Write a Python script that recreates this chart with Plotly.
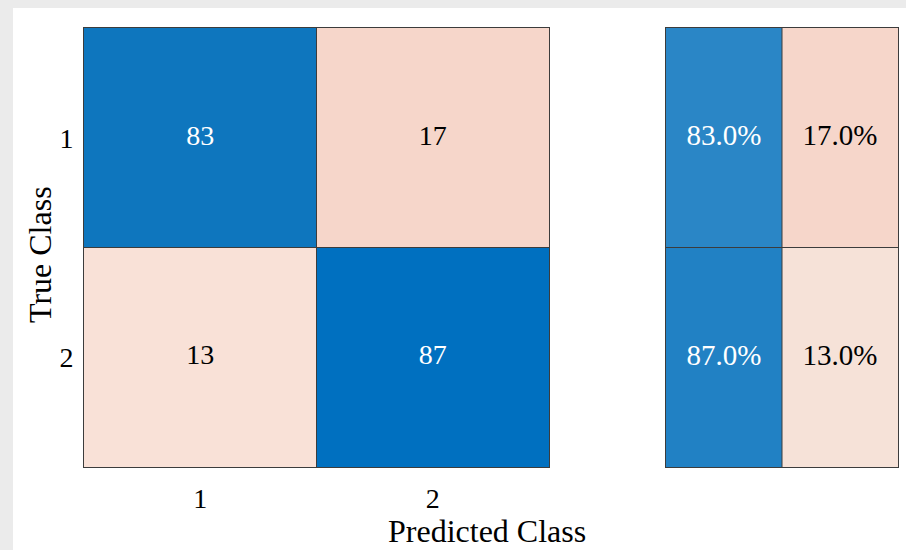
import plotly.graph_objects as go

# Confusion matrix (rows = true class, columns = predicted class)
classes = ["1", "2"]
counts = [[83, 17],
          [13, 87]]
# Row summary: share of each true class predicted correctly / incorrectly
row_correct = [83.0, 87.0]
row_incorrect = [17.0, 13.0]

# Cell fill colours
matrix_colors = [["#0e76be", "#f6d6ca"],
                 ["#f9e1d7", "#0070c0"]]
summary_colors = [["#2a86c6", "#f6d6ca"],
                  ["#2181c4", "#f6e2d8"]]

FONT = "Liberation Serif"
W, H = 906, 550
EDGE = "#3c3c3c"


def color_grid(colors):
    """Turn a 2x2 colour grid into a z index grid plus a discrete colorscale."""
    flat = [c for row in colors for c in row]
    n = len(flat)
    scale = []
    for i, c in enumerate(flat):
        scale.append([i / n, c])
        scale.append([(i + 1) / n, c])
    z = [[r * len(row) + k + 0.5 for k, _ in enumerate(row)] for r, row in enumerate(colors)]
    return z, scale, n


fig = go.Figure()

# Main matrix
z, scale, n = color_grid(matrix_colors)
xs = [1, 2]
ys = [1, 2]
fig.add_trace(go.Heatmap(x=xs, y=ys, z=z, colorscale=scale, zmin=0, zmax=n,
                         showscale=False, hoverinfo="skip", xaxis="x", yaxis="y"))
tx, ty, tt, tc = [], [], [], []
for r in range(2):
    for c in range(2):
        tx.append(xs[c]); ty.append(ys[r]); tt.append(str(counts[r][c]))
        tc.append("white" if r == c else "black")
fig.add_trace(go.Scatter(x=tx, y=ty, text=tt, mode="text", hoverinfo="skip",
                         textfont=dict(family=FONT, size=28, color=tc),
                         xaxis="x", yaxis="y", showlegend=False))

# Row summary panel
z2, scale2, n2 = color_grid(summary_colors)
fig.add_trace(go.Heatmap(x=xs, y=ys, z=z2, colorscale=scale2, zmin=0, zmax=n2,
                         showscale=False, hoverinfo="skip", xaxis="x2", yaxis="y2"))
sx, sy, st, sc = [], [], [], []
for r in range(2):
    sx += [1, 2]; sy += [ys[r], ys[r]]
    st += [f"{row_correct[r]:.1f}%", f"{row_incorrect[r]:.1f}%"]
    sc += ["white", "black"]
fig.add_trace(go.Scatter(x=sx, y=sy, text=st, mode="text", hoverinfo="skip",
                         textfont=dict(family=FONT, size=29, color=sc),
                         xaxis="x2", yaxis="y2", showlegend=False))

# Cell borders
shapes = []
for xa, ya in (("x", "y"), ("x2", "y2")):
    shapes.append(dict(type="line", xref=xa, yref=ya, x0=1.5, x1=1.5, y0=0.5, y1=2.5,
                       line=dict(color=EDGE, width=1)))
    shapes.append(dict(type="line", xref=xa, yref=ya, x0=0.5, x1=2.5, y0=1.5, y1=1.5,
                       line=dict(color=EDGE, width=1)))

# White canvas over grey surround
shapes.insert(0, dict(type="rect", xref="paper", yref="paper", layer="below",
                      x0=13 / W, x1=1.0, y0=0.0, y1=1 - 8 / H,
                      fillcolor="white", line=dict(width=0)))

ydom = [1 - 467 / H, 1 - 28 / H]
axis_common = dict(showgrid=False, zeroline=False, showline=True, mirror=True,
                   linecolor=EDGE, linewidth=1, fixedrange=True)

fig.update_layout(
    width=W, height=H,
    margin=dict(l=0, r=0, t=0, b=0),
    paper_bgcolor="#ebebeb",
    plot_bgcolor="white",
    showlegend=False,
    shapes=shapes,
    font=dict(family=FONT, size=27, color="black"),
    xaxis=dict(domain=[84 / W, 549 / W], anchor="y", tickmode="array",
               tickvals=xs, ticktext=classes, ticks="", ticklabelstandoff=6,
               range=[0.5, 2.5], tickfont=dict(family=FONT, size=28), **axis_common),
    yaxis=dict(domain=ydom, anchor="x", tickmode="array", tickvals=ys,
               ticktext=classes, ticks="", ticklabelstandoff=4,
               range=[2.5, 0.5], tickfont=dict(family=FONT, size=28), **axis_common),
    xaxis2=dict(domain=[666 / W, 898 / W], anchor="y2", showticklabels=False,
                ticks="", range=[0.5, 2.5], **axis_common),
    yaxis2=dict(domain=ydom, anchor="x2", showticklabels=False, ticks="",
                range=[2.5, 0.5], **axis_common),
    annotations=[
        dict(text="True Class", xref="paper", yref="paper", x=40 / W, y=1 - 255 / H,
             textangle=-90, showarrow=False, xanchor="center", yanchor="middle",
             font=dict(family=FONT, size=32, color="black")),
        dict(text="Predicted Class", xref="paper", yref="paper", x=487 / W, y=0,
             showarrow=False, xanchor="center", yanchor="bottom", yshift=0,
             borderpad=0,
             font=dict(family=FONT, size=32, color="black")),
    ],
)

fig.write_html("out.html")
